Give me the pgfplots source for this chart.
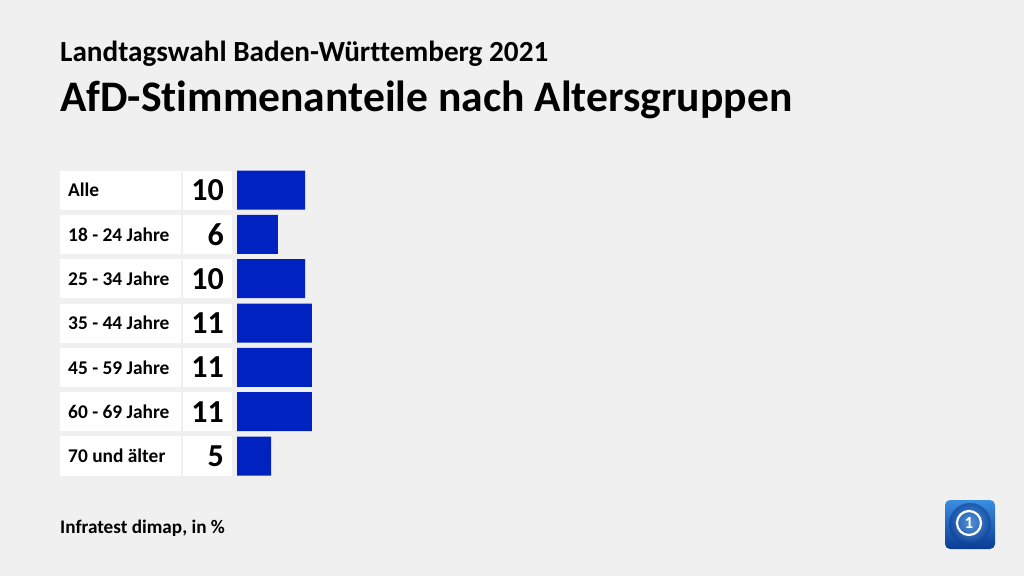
\documentclass[border=0pt]{standalone}
\usepackage{pgfplots}
\pgfplotsset{compat=1.18}
\usepackage{pgfplotstable}
\usepackage{fontspec}
\setmainfont[Ligatures={NoCommon}]{Carlito}
\definecolor{bg}{HTML}{F0F0F0}
\definecolor{barblue}{HTML}{0022C0}
\definecolor{logotop}{HTML}{3A8EE0}
\definecolor{logobot}{HTML}{0A3C94}
\pgfplotstableread[col sep=comma]{
row,label,value
0,Alle,10
1,18 - 24 Jahre,6
2,25 - 34 Jahre,10
3,35 - 44 Jahre,11
4,45 - 59 Jahre,11
5,60 - 69 Jahre,11
6,70 und älter,5
}\data
\begin{document}
\begin{tikzpicture}[x=1pt,y=1pt]
\fill[bg] (0,0) rectangle (1024,576);
\node[anchor=base west, inner sep=0pt, font=\fontsize{29.2}{32}\selectfont\bfseries] at (60,514) {Landtagswahl Baden-Württemberg 2021};
\node[anchor=base west, inner sep=0pt, font=\fontsize{43.6}{48}\selectfont\bfseries] at (60,464) {AfD-Stimmenanteile nach Altersgruppen};
\node[anchor=base west, inner sep=0pt, font=\fontsize{19.2}{21}\selectfont\bfseries] at (60,43) {Infratest dimap, in \%};
% logo
\shade[top color=logotop, bottom color=logobot, rounded corners=5pt] (945,27) rectangle (995,76);
\shade[inner color=logotop!70!white, outer color=logobot, opacity=0.6] (970,52) circle (21);
\draw[white, line width=2.2pt] (969,53) circle (12);
\node[white, font=\fontsize{17}{17}\selectfont\bfseries, inner sep=0pt] at (969,53) {1};
\begin{axis}[
  at={(0,0)}, anchor=south west,
  scale only axis, width=1024pt, height=576pt,
  xmin=-34.853, xmax=115.735,
  ymin=-4.286, ymax=8.707, y dir=reverse,
  hide axis, clip=false,
]
\pgfplotsinvokeforeach{0,...,6}{
  \fill[white] (axis cs:-26.03,#1-0.44) rectangle (axis cs:-8.235,#1+0.44);
  \fill[white] (axis cs:-7.94,#1-0.44) rectangle (axis cs:-0.735,#1+0.44);
}
\addplot[xbar, bar width=39pt, fill=barblue, draw=none] table[x=value, y=row]{\data};
\addplot[draw=none, no markers, nodes near coords, point meta=explicit symbolic,
  every node near coord/.append style={anchor=west, inner xsep=8pt, inner ysep=0pt,
    font=\fontsize{19.4}{21}\selectfont\bfseries, text=black}]
  table[x expr=-26.03, y=row, meta=label]{\data};
\addplot[draw=none, no markers, nodes near coords, point meta=explicit symbolic,
  every node near coord/.append style={anchor=east, inner xsep=8pt, inner ysep=0pt,
    font=\fontsize{32}{34}\selectfont\bfseries, text=black}]
  table[x expr=-0.735, y=row, meta=value]{\data};
\end{axis}
\end{tikzpicture}
\end{document}
